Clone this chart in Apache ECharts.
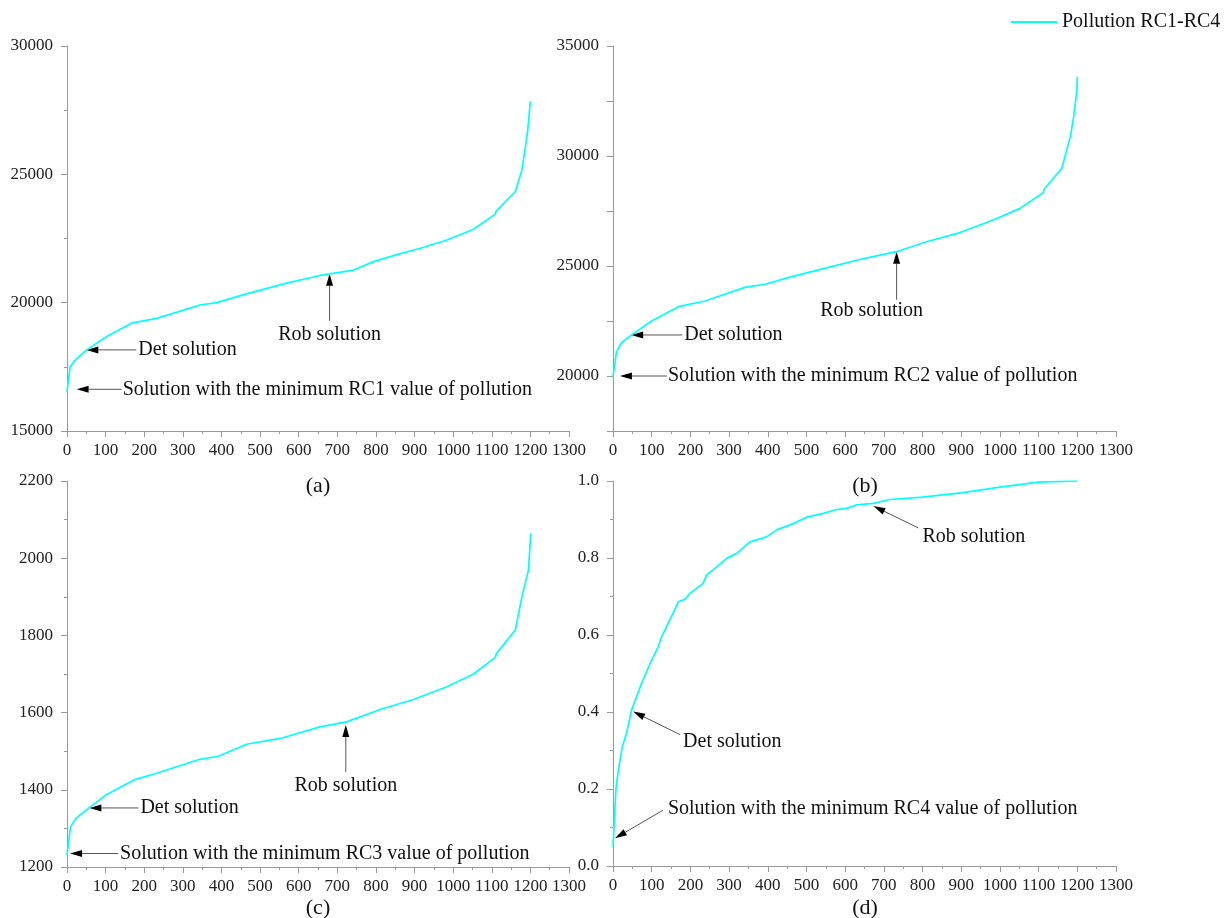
<!DOCTYPE html>
<html>
<head>
<meta charset="utf-8">
<script src="https://cdn.jsdelivr.net/npm/echarts@6/dist/echarts.min.js"></script>
<style>
html,body{margin:0;padding:0;background:#fff;}
#chart{width:1226px;height:918px;}
</style>
</head>
<body>
<div id="chart"></div>
<script>
// ---- data ----
const xTicks = [0,100,200,300,400,500,600,700,800,900,1000,1100,1200,1300];

const rc1X = [0, 8, 23, 51, 103, 167, 232, 300, 344, 388, 465, 569, 655, 681, 742, 794, 850, 915, 984, 1053, 1109, 1111, 1161, 1178, 1186, 1193, 1200];
const rc1Y = [16530, 17500, 17790, 18160, 18680, 19200, 19390, 19700, 19910, 20000, 20340, 20760, 21060, 21120, 21270, 21600, 21850, 22120, 22440, 22860, 23450, 23560, 24330, 25170, 25950, 26700, 27850];

const rc2X = [0, 9, 22, 48, 100, 169, 238, 341, 393, 462, 565, 651, 733, 810, 897, 983, 1052, 1112, 1114, 1160, 1182, 1190, 1199, 1200];
const rc2Y = [19970, 21100, 21510, 21870, 22500, 23150, 23410, 24030, 24170, 24520, 24970, 25350, 25650, 26100, 26520, 27090, 27620, 28330, 28490, 29440, 30880, 31710, 33000, 33600];

const rc3X = [0, 9, 23, 58, 103, 172, 232, 344, 392, 465, 552, 655, 724, 811, 897, 984, 1053, 1109, 1113, 1161, 1178, 1195, 1201];
const rc3Y = [1231, 1304, 1326, 1354, 1388, 1425, 1443, 1479, 1487, 1518, 1533, 1563, 1576, 1608, 1634, 1667, 1700, 1743, 1754, 1814, 1900, 1969, 2064];

const rc4X = [0, 8, 14, 24, 35, 48, 61, 74, 96, 117, 126, 147, 169, 186, 199, 233, 242, 268, 294, 320, 354, 397, 423, 458, 501, 544, 578, 604, 630, 673, 716, 800, 900, 1000, 1100, 1200];
const rc4Y = [0.050, 0.206, 0.249, 0.310, 0.345, 0.405, 0.440, 0.475, 0.526, 0.570, 0.596, 0.639, 0.686, 0.693, 0.708, 0.734, 0.756, 0.777, 0.799, 0.812, 0.842, 0.855, 0.873, 0.886, 0.906, 0.916, 0.926, 0.929, 0.938, 0.942, 0.952, 0.958, 0.969, 0.984, 0.997, 1.0];

const seriesName = 'Pollution RC1-RC4';
const panelLabels = ['(a)', '(b)', '(c)', '(d)'];

// annotations: tip in data coords; tail / text offsets in px relative to tip
const annotations = [
  {g:0, text:'Det solution', tip:[50,18160], tail:[50,0], pos:[52,0], align:'left'},
  {g:0, text:'Solution with the minimum RC1 value of pollution', tip:[25,16625], tail:[45,0], pos:[46,0], align:'left'},
  {g:0, text:'Rob solution', tip:[680,21130], tail:[0,47], pos:[0,61], align:'center'},
  {g:1, text:'Det solution', tip:[47,21865], tail:[51,0], pos:[53,0], align:'left'},
  {g:1, text:'Solution with the minimum RC2 value of pollution', tip:[18,20000], tail:[47,0], pos:[48,0], align:'left'},
  {g:1, text:'Rob solution', tip:[733,25650], tail:[0,48], pos:[-25,59], align:'center'},
  {g:2, text:'Det solution', tip:[58,1353], tail:[49,0], pos:[51,0], align:'left'},
  {g:2, text:'Solution with the minimum RC3 value of pollution', tip:[8,1235], tail:[48,0], pos:[50,0], align:'left'},
  {g:2, text:'Rob solution', tip:[722,1568], tail:[0,47], pos:[0,61], align:'center'},
  {g:3, text:'Solution with the minimum RC4 value of pollution', tip:[5,0.072], tail:[48,-28], pos:[53,-30], align:'left'},
  {g:3, text:'Det solution', tip:[52,0.401], tail:[47,23], pos:[50,30], align:'left'},
  {g:3, text:'Rob solution', tip:[673,0.935], tail:[45,22], pos:[49,30.5], align:'left'}
];

function pairs(xs, ys){ return xs.map((x,i)=>[x, ys[i]]); }

const FONT = 'Liberation Serif';
const grids = [
  {left:67, top:46, width:502, height:385},
  {left:613, top:46, width:503, height:385},
  {left:67, top:481, width:502, height:386},
  {left:613, top:481, width:503, height:385}
];
const yCfg = [
  {min:15000, max:30000, interval:5000, minor:2, fmt:v=>String(v)},
  {min:17500, max:35000, interval:2500, minor:0, fmt:v=>(v%5000===0?String(v):'')},
  {min:1200, max:2200, interval:200, minor:2, fmt:v=>String(v)},
  {min:0, max:1, interval:0.2, minor:2, fmt:v=>v.toFixed(1)}
];
const axisColor = '#9a9a9a';
const labelStyle = {color:'#222', fontSize:17, fontFamily:FONT};

const chart = echarts.init(document.getElementById('chart'), null, {renderer:'canvas'});
const option = {
  animation:false,
  backgroundColor:'#fff',
  legend:{
    data:[seriesName], left:1011, top:12, padding:0, icon:'rect', itemWidth:46, itemHeight:2,
    textStyle:{fontFamily:FONT, fontSize:20, color:'#111'}
  },
  grid: grids,
  xAxis: grids.map((g,i)=>({
    type:'value', gridIndex:i, min:xTicks[0], max:xTicks[xTicks.length-1], interval:100,
    axisLine:{show:true, lineStyle:{color:axisColor, width:1}},
    axisTick:{show:true, length:6, lineStyle:{color:axisColor}},
    minorTick:{show:true, splitNumber:2, length:3, lineStyle:{color:axisColor}},
    splitLine:{show:false},
    axisLabel:Object.assign({margin:11, hideOverlap:false, showMinLabel:true, showMaxLabel:true, formatter:v=>String(v)}, labelStyle)
  })),
  yAxis: grids.map((g,i)=>({
    type:'value', gridIndex:i, min:yCfg[i].min, max:yCfg[i].max, interval:yCfg[i].interval,
    axisLine:{show:true, lineStyle:{color:axisColor, width:1}},
    axisTick:{show:true, length:6, lineStyle:{color:axisColor}},
    minorTick:{show:yCfg[i].minor>0, splitNumber:yCfg[i].minor||2, length:3, lineStyle:{color:axisColor}},
    splitLine:{show:false},
    axisLabel:Object.assign({margin:14, formatter:yCfg[i].fmt, showMinLabel:true, showMaxLabel:true}, labelStyle)
  })),
  series: [
    pairs(rc1X, rc1Y), pairs(rc2X, rc2Y), pairs(rc3X, rc3Y), pairs(rc4X, rc4Y)
  ].map((d,i)=>({
    name:seriesName, type:'line', xAxisIndex:i, yAxisIndex:i, data:d,
    showSymbol:false, symbol:'none', smooth:false,
    lineStyle:{color:'#00FFFF', width:1.7}, itemStyle:{color:'#00FFFF'}
  }))
};
chart.setOption(option);

// annotations (arrows + texts) positioned from data coordinates
const gfx = [];
annotations.forEach(a=>{
  const p = chart.convertToPixel({gridIndex:a.g}, a.tip);
  const tx = p[0] + a.tail[0], ty = p[1] + a.tail[1];
  const dx = p[0]-tx, dy = p[1]-ty;
  const len = Math.sqrt(dx*dx+dy*dy);
  const ux = dx/len, uy = dy/len;
  const hl = 12, hw = 3.5;
  const bx = p[0]-ux*hl, by = p[1]-uy*hl;
  gfx.push({type:'line', shape:{x1:tx, y1:ty, x2:bx, y2:by}, style:{stroke:'#555', lineWidth:1}, silent:true});
  gfx.push({type:'polygon', shape:{points:[[p[0],p[1]],[bx-uy*hw, by+ux*hw],[bx+uy*hw, by-ux*hw]]}, style:{fill:'#000'}, silent:true});
  gfx.push({type:'text', x:p[0]+a.pos[0], y:p[1]+a.pos[1],
    style:{text:a.text, fill:'#111', font:'20px "Liberation Serif"', textAlign:a.align, textVerticalAlign:'middle'}, silent:true});
});
const labelPos = [[318,486],[865,486],[318,908],[865,908]];
panelLabels.forEach((t,i)=>{
  gfx.push({type:'text', x:labelPos[i][0], y:labelPos[i][1],
    style:{text:t, fill:'#111', font:'22px "Liberation Serif"', textAlign:'center', textVerticalAlign:'middle'}, silent:true});
});
chart.setOption({graphic:gfx});
</script>
</body>
</html>
